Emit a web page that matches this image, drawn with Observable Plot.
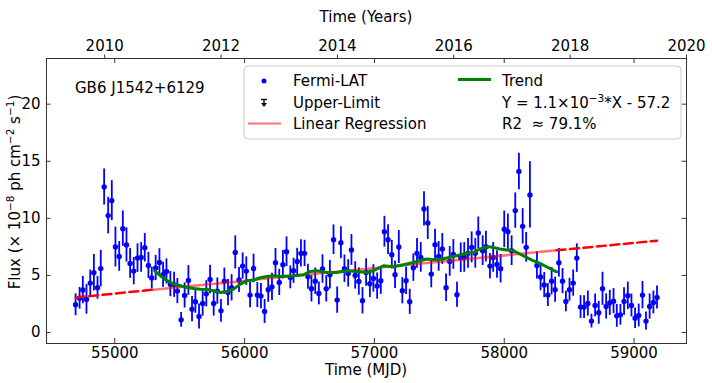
<!DOCTYPE html>
<html><head><meta charset="utf-8">
<script src="https://cdn.jsdelivr.net/npm/d3@7"></script>
<script src="https://cdn.jsdelivr.net/npm/@observablehq/plot@0.6"></script>
<style>body{margin:0;background:#fff;}</style>
</head><body><div id="chart"></div>
<script>
// ---- data ----
const mjd = [54698,54729,54754,54782,54811,54839,54867,54892,54918,54949,54977,55005,55034,55062,55090,55118,55146,55175,55203,55231,55259,55285,55315,55344,55372,55398,55428,55457,55482,55511,55538,55567,55595,55621,55649,55677,55705,55734,55762,55790,55818,55844,55872,55900,55928,55957,55985,56013,56042,56069,56098,56126,56154,56182,56211,56238,56267,
56295,56323,56352,56377,56405,56434,56462,56488,56515,56544,56572,56600,56629,56657,56685,56713,56742,56769,56798,56823,56852,56880,56908,56936,56965,56992,57021,57049,57077,57105,57134,57159,57188,57215,57244,57272,57300,57328,57357,57382,57411,57438,57467,57495,57523,57552,57580,57608,57636,57665,57692,57721,57749,57777,57800,
57834,57859,57890,57915,57944,57972,58000,58028,58057,58085,58113,58142,58169,58198,58252,58280,58308,58336,58365,58392,58421,58449,58475,58503,58531,58559,58588,58615,58644,58672,58700,58728,58757,58785,58813,58842,58867,58895,58923,58952,58980,59008,59036,59065,59092,59120,59149,59177];
const flux = [2.43,3.00,3.72,2.90,4.33,5.24,3.92,5.60,12.75,10.24,11.55,7.49,6.67,9.10,7.67,6.05,5.38,6.52,6.58,7.43,5.88,4.77,5.65,6.14,5.06,5.35,4.24,4.18,3.63,1.11,3.25,4.56,2.05,2.69,1.40,2.54,3.39,4.65,2.54,3.63,1.90,4.50,3.50,3.92,7.02,4.60,5.82,5.38,3.28,5.61,3.28,3.19,1.84,3.75,4.00,6.11,4.39,
5.94,7.08,4.83,5.41,6.23,6.93,6.93,4.89,3.83,4.50,3.42,5.56,3.83,5.06,8.13,2.84,7.87,5.59,5.18,7.23,5.00,4.47,2.78,5.26,4.27,4.74,4.07,4.54,8.83,8.13,6.82,5.06,7.49,3.66,4.54,2.69,5.68,6.93,6.58,10.82,9.60,5.12,7.69,6.67,7.32,3.92,6.23,6.84,3.31,6.55,6.58,6.93,7.46,6.93,8.72,
7.17,7.52,5.82,6.58,5.96,5.59,9.04,8.83,7.17,10.68,14.10,9.30,7.46,12.05,5.88,4.86,4.16,3.28,4.50,3.75,6.11,4.50,2.72,3.75,4.33,6.52,2.23,2.23,2.54,1.00,2.37,1.73,3.83,2.28,2.60,2.75,1.46,1.55,2.72,3.22,2.37,1.26,1.49,3.28,1.00,2.28,2.63,3.07];
const fluxErr = [0.96,0.95,1.2,1.3,1.15,1.6,1.0,1.6,1.58,1.6,1.75,1.75,1.3,1.55,1.5,1.3,1.2,1.25,1.3,1.25,1.15,0.95,1.1,1.2,1.1,1.1,1.1,1.1,1.1,0.65,1.1,1.3,1.1,1.0,1.1,1.1,1.15,1.25,1.1,1.15,1.0,1.15,1.15,1.15,1.45,1.1,1.15,1.25,1.1,1.25,1.1,1.1,1.05,1.1,1.2,1.25,1.15,
1.25,1.3,1.0,1.1,1.15,1.2,1.15,1.1,1.15,1.15,1.0,1.25,1.15,1.25,1.3,1.15,1.4,1.2,1.2,1.35,1.2,1.2,1.15,1.2,1.2,1.2,1.15,1.2,1.35,1.3,1.25,1.2,1.45,1.15,1.2,1.1,1.2,1.3,1.3,1.5,1.45,1.2,1.35,1.3,1.35,1.2,1.3,1.3,1.1,1.3,1.3,1.3,1.35,1.3,1.4,
1.3,1.35,1.1,1.3,1.2,1.25,1.6,1.55,1.3,1.55,1.6,1.55,1.3,2.9,1.2,1.2,1.1,1.0,1.2,1.1,1.25,1.1,0.9,1.0,1.15,1.25,1.0,1.0,1.1,0.6,1.0,1.0,1.45,1.1,1.1,1.1,1.0,0.9,1.2,1.2,1.0,0.9,1.0,1.2,0.8,1.1,1.0,1.0];

const trendMjd = [55308,55352,55403,55454,55505,55557,55608,55659,55711,55762,55813,55865,55915,55967,56018,56069,56121,56172,56223,56275,56377,56454,56505,56557,56634,56711,56788,56865,56942,56992,57069,57146,57223,57300,57403,57480,57557,57634,57711,57762,57813,57877,57915,57967,58018,58069,58121,58172,58223,58275,58326,58377,58403];
const trendFlux = [5.41,4.97,4.54,4.24,4.10,3.95,3.86,3.80,3.77,3.66,3.51,3.60,3.80,4.24,4.54,4.60,4.80,4.91,4.97,4.90,4.97,5.06,5.35,5.41,5.26,5.26,5.41,5.35,5.26,5.41,5.85,5.76,5.94,6.14,6.44,6.35,6.53,6.73,6.95,7.00,7.32,7.52,7.46,7.32,7.23,7.17,6.88,6.58,6.29,6.05,5.76,5.47,5.32];

const regMjd = [54698, 55295, 58403, 59177];
const regFlux = [3.07, 3.75, 7.20, 8.04];

const mjdTicks = [55000, 56000, 57000, 58000, 59000];
const yearTicks = [2010, 2012, 2014, 2016, 2018, 2020];
const fluxTicks = [0, 5, 10, 15, 20];
const xDomain = [54474, 59404];
const yDomain = [-0.96, 24];
const yearDomain = [2009, 2020];

// ---- build tables ----
const points = mjd.map((m, i) => ({mjd: m, flux: flux[i], err: fluxErr[i]}));
const trend = trendMjd.map((m, i) => ({mjd: m, flux: trendFlux[i]}));
const reg = regMjd.map((m, i) => ({mjd: m, flux: regFlux[i]}));
const yearToMjd = y => xDomain[0] + (y - yearDomain[0]) / (yearDomain[1] - yearDomain[0]) * (xDomain[1] - xDomain[0]);
const mjdToYear = m => yearDomain[0] + (m - xDomain[0]) / (xDomain[1] - xDomain[0]) * (yearDomain[1] - yearDomain[0]);

const W = 712, H = 383, mL = 46, mR = 26, mT = 58, mB = 40;
const fw = W - mL - mR, fh = H - mT - mB;
const axisColor = "#333";

const chart = Plot.plot({
  width: W, height: H,
  marginLeft: mL, marginRight: mR, marginTop: mT, marginBottom: mB,
  style: {fontFamily: "DejaVu Sans, sans-serif", fontSize: "15px", color: "black", background: "white", overflow: "visible"},
  x: {domain: xDomain},
  y: {domain: yDomain},
  marks: [
    Plot.ruleX(points, {x: "mjd", y1: d => d.flux - d.err, y2: d => d.flux + d.err, stroke: "#0000ff", strokeWidth: 1.8}),
    Plot.dot(points, {x: "mjd", y: "flux", r: 2.7, fill: "#0000ff", stroke: "none"}),
    Plot.line(reg.slice(0, 2), {x: "mjd", y: "flux", stroke: "red", strokeWidth: 2.5, strokeDasharray: "9,4.5"}),
    Plot.line(reg.slice(2, 4), {x: "mjd", y: "flux", stroke: "red", strokeWidth: 2.5, strokeDasharray: "9,4.5"}),
    Plot.line(reg.slice(1, 3), {x: "mjd", y: "flux", stroke: "red", strokeOpacity: 0.55, strokeWidth: 2.5}),
    Plot.line(trend, {x: "mjd", y: "flux", stroke: "green", strokeWidth: 3}),
    Plot.frame({stroke: axisColor}),
    Plot.axisX({ticks: mjdTicks, tickSize: 0, tickPadding: 4, tickFormat: d => String(d), label: null}),
    Plot.ruleX(mjdTicks, {insetTop: fh - 5, stroke: axisColor}),
    Plot.ruleX(mjdTicks, {insetBottom: fh - 5, stroke: axisColor}),
    Plot.axisX({anchor: "top", ticks: yearTicks.map(yearToMjd), tickSize: 4.5, tickPadding: 3, tickFormat: d => String(Math.round(mjdToYear(d))), label: null, stroke: axisColor}),
    Plot.axisY({ticks: fluxTicks, tickSize: 0, tickPadding: 6, label: null}),
    Plot.ruleY(fluxTicks, {insetRight: fw - 4.5, stroke: axisColor}),
    Plot.ruleY(fluxTicks, {insetLeft: fw - 4.5, stroke: axisColor})
  ]
});
document.getElementById("chart").appendChild(chart);

// ---- labels and legend ----
const svg = d3.select(chart);
const font = 15;
const cx = mL + fw / 2;

function addText(parent, x, y, anchor) {
  return parent.append("text").attr("x", x).attr("y", y).attr("text-anchor", anchor)
    .attr("font-size", font).attr("fill", "black");
}
addText(svg, cx, 22, "middle").text("Time (Years)");
addText(svg, cx, 375, "middle").text("Time (MJD)");

function supText(parent, parts) {
  let shift = 0;
  parts.forEach(p => {
    if (typeof p === "string") {
      parent.append("tspan").attr("dy", shift).attr("font-size", font).text(p);
      shift = 0;
    } else {
      parent.append("tspan").attr("dy", -6).attr("font-size", 10.5).text(p.sup);
      shift = 6;
    }
  });
}
const yl = svg.append("text").attr("transform", "translate(20,192) rotate(-90)")
  .attr("text-anchor", "middle").attr("font-size", font).attr("fill", "black");
supText(yl, ["Flux (\u00d7 10", {sup: "\u22128"}, " ph cm", {sup: "\u22122"}, " s", {sup: "\u22121"}, ")"]);

addText(svg, 75, 92.5, "start").text("GB6 J1542+6129");

const lg = svg.append("g");
lg.append("rect").attr("x", 244).attr("y", 66).attr("width", 437).attr("height", 73).attr("rx", 4)
  .attr("fill", "white").attr("fill-opacity", 0.85).attr("stroke", "#cccccc").attr("stroke-width", 1);
lg.append("circle").attr("cx", 264).attr("cy", 81).attr("r", 2.5).attr("fill", "#0000ff");
addText(lg, 293, 85.5, "start").text("Fermi-LAT");
// upper-limit symbol
lg.append("line").attr("x1", 261).attr("x2", 267).attr("y1", 99.5).attr("y2", 99.5).attr("stroke", "black").attr("stroke-width", 1.3);
lg.append("line").attr("x1", 264).attr("x2", 264).attr("y1", 99.5).attr("y2", 105).attr("stroke", "black").attr("stroke-width", 1.3);
lg.append("path").attr("d", "M261,103 L267,103 L264,107 Z").attr("fill", "black");
addText(lg, 293, 107.5, "start").text("Upper-Limit");
lg.append("line").attr("x1", 248).attr("x2", 281).attr("y1", 123.5).attr("y2", 123.5).attr("stroke", "red").attr("stroke-opacity", 0.55).attr("stroke-width", 2.2);
addText(lg, 293, 129, "start").text("Linear Regression");
lg.append("line").attr("x1", 458).attr("x2", 491).attr("y1", 79.5).attr("y2", 79.5).attr("stroke", "green").attr("stroke-width", 3);
addText(lg, 502, 85.5, "start").text("Trend");
const eq = addText(lg, 502, 107.5, "start");
supText(eq, ["Y = 1.1\u00d710", {sup: "\u22123"}, "*X - 57.2"]);
addText(lg, 502, 129, "start").style("white-space", "pre").text("R2  \u2248 79.1%");
</script>
</body></html>
